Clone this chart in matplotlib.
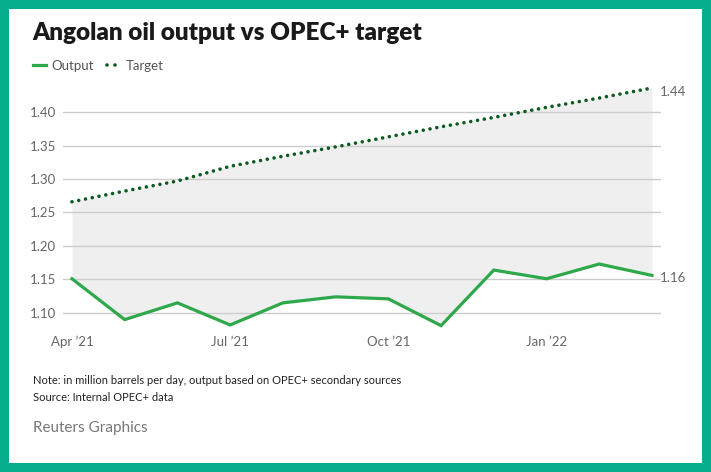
import matplotlib.pyplot as plt
import numpy as np

# monthly values, million barrels per day
months = ["Apr '21", "May '21", "Jun '21", "Jul '21", "Aug '21", "Sep '21",
          "Oct '21", "Nov '21", "Dec '21", "Jan '22", "Feb '22", "Mar '22"]
output = [1.151, 1.090, 1.115, 1.082, 1.115, 1.124, 1.121, 1.081, 1.164, 1.151, 1.173, 1.156]
target = [1.266, 1.282, 1.297, 1.319, 1.334, 1.348, 1.363, 1.378, 1.392, 1.407, 1.421, 1.436]
tick_idx = [0, 3, 6, 9]
tick_labels = ["Apr \u201921", "Jul \u201921", "Oct \u201921", "Jan \u201922"]
y_ticks = [1.10, 1.15, 1.20, 1.25, 1.30, 1.35, 1.40]

plt.rcParams['font.family'] = ['Lato', 'DejaVu Sans']

green = '#2ea84a'
dark = '#0b5a1e'
teal = '#07ae8e'
grey = '#666666'

fig = plt.figure(figsize=(7.11, 4.72), dpi=100)
fig.patch.set_facecolor('white')

# teal frame
frame = plt.Rectangle((0, 0), 1, 1, transform=fig.transFigure, fill=False,
                      edgecolor=teal, linewidth=13, zorder=10)
fig.add_artist(frame)

ax = fig.add_axes([0.0886, 0.2945, 0.841, 0.539])
x = np.arange(len(months))

ax.fill_between(x, output, target, color='#efefef', lw=0, zorder=0)
ax.plot(x, output, color=green, lw=2.3, solid_joinstyle='miter', zorder=3, label='Output')
ax.plot(x, target, color=dark, lw=2.6, linestyle=(0, (0.01, 1.9)), dash_capstyle='round',
        zorder=4, label='Target')

ax.set_xlim(-0.17, 11.17)
ax.set_ylim(1.07, 1.45)
ax.set_yticks(y_ticks)
ax.set_yticklabels([f'{v:.2f}' for v in y_ticks])
ax.set_xticks(tick_idx)
ax.set_xticklabels(tick_labels)
ax.tick_params(length=0, labelsize=9.5, labelcolor=grey)
ax.tick_params(axis='y', pad=5)
ax.tick_params(axis='x', pad=2)
ax.grid(axis='y', color='#cccccc', lw=1)
ax.set_axisbelow(True)
for s in ax.spines.values():
    s.set_visible(False)

# end labels
ax.annotate(f'{target[-1]:.2f}', xy=(x[-1], target[-1]), xytext=(6, -3),
            textcoords='offset points', ha='left', va='center', fontsize=9.5, color=grey)
ax.annotate(f'{output[-1]:.2f}', xy=(x[-1], output[-1]), xytext=(6, -2),
            textcoords='offset points', ha='left', va='center', fontsize=9.5, color=grey)

# title + legend
fig.text(0.046, 0.915, 'Angolan oil output vs OPEC+ target', fontsize=17.5,
         fontweight='heavy', color='#1a1a1a', va='baseline')
leg = fig.legend(handles=ax.get_lines(), loc='center left', bbox_to_anchor=(0.030, 0.86),
                 ncol=2, frameon=False, fontsize=9.5, handlelength=1.0, handletextpad=0.4,
                 columnspacing=1.0, labelcolor='#555555')
leg.legend_handles[1].set_linestyle((0, (0.01, 2.2)))

# notes
fig.text(0.046, 0.193, 'Note: in million barrels per day, output based on OPEC+ secondary sources',
         fontsize=8, color='#222222', va='center')
fig.text(0.046, 0.157, 'Source: Internal OPEC+ data', fontsize=8, color='#222222', va='center')
fig.text(0.046, 0.093, 'Reuters Graphics', fontsize=11, color='#777777', va='center')

fig.savefig('out.png', dpi=100)
